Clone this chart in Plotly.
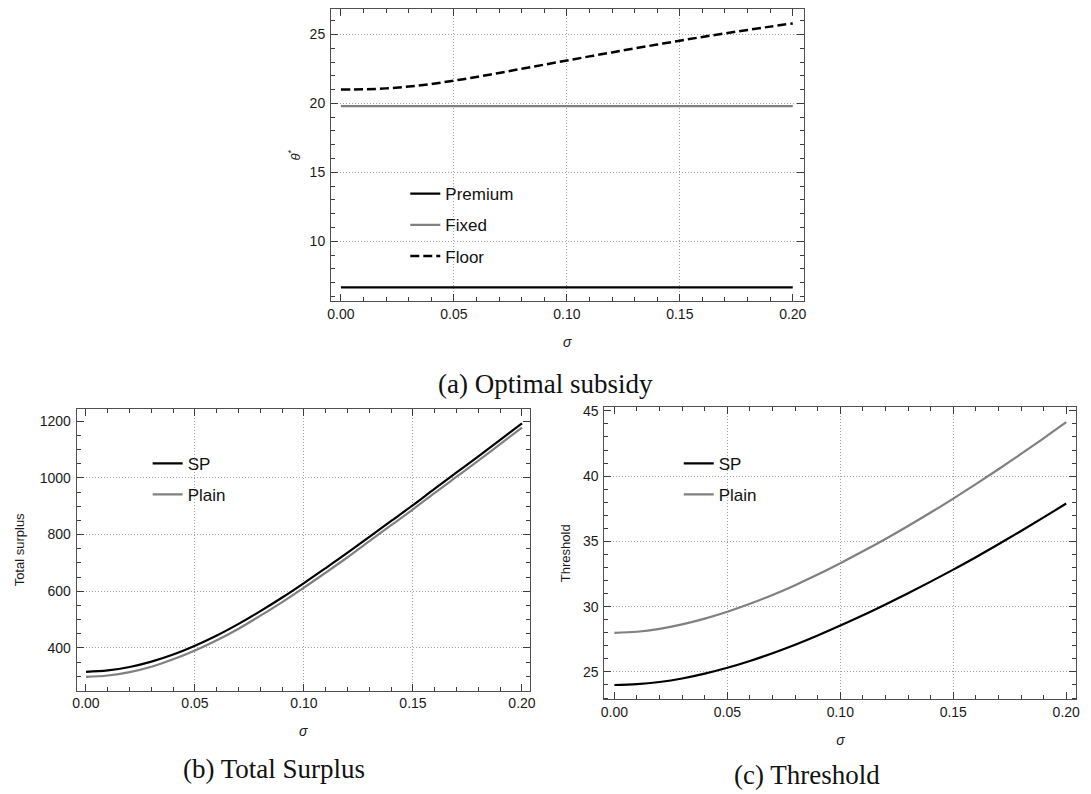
import plotly.graph_objects as go

# ---------------- data ----------------
sigma = [0.00, 0.01, 0.02, 0.03, 0.04, 0.05, 0.06, 0.07, 0.08, 0.09, 0.10,
         0.11, 0.12, 0.13, 0.14, 0.15, 0.16, 0.17, 0.18, 0.19, 0.20]

# (a) Optimal subsidy
floor_theta = [21.00, 21.02, 21.09, 21.22, 21.41, 21.65, 21.92, 22.21, 22.51, 22.81, 23.11,
               23.41, 23.70, 23.99, 24.27, 24.55, 24.82, 25.08, 25.33, 25.57, 25.80]
flat_sigma = [0.00, 0.20]
premium_theta = [6.66, 6.66]
fixed_theta = [19.80, 19.80]

# (b) Total surplus
surplus_sp = [316, 321, 333, 352, 377, 408, 444, 485, 530, 578, 629,
              682, 736, 792, 848, 904, 962, 1019, 1076, 1134, 1192]
surplus_plain = [298, 303, 315, 334, 360, 391, 427, 468, 514, 562, 613,
                 666, 720, 777, 833, 889, 947, 1004, 1061, 1119, 1177]

# (c) Threshold
threshold_sp = [24.00, 24.06, 24.23, 24.50, 24.87, 25.32, 25.84, 26.43, 27.08, 27.79, 28.55,
                29.34, 30.17, 31.03, 31.92, 32.84, 33.79, 34.78, 35.80, 36.84, 37.90]
threshold_plain = [28.00, 28.08, 28.30, 28.64, 29.08, 29.61, 30.22, 30.90, 31.65, 32.46, 33.33,
                   34.24, 35.19, 36.18, 37.21, 38.28, 39.39, 40.53, 41.70, 42.90, 44.13]

# ticks (major label positions, minor tick step, grid positions)
x_ticks = [0.00, 0.05, 0.10, 0.15, 0.20]
x_minor = 0.01
x_grid = [0.05, 0.10, 0.15]
theta_ticks = [10, 15, 20, 25]
theta_minor = 1
theta_grid = [10, 15, 20, 25]
surplus_ticks = [400, 600, 800, 1000, 1200]
surplus_minor = 50
surplus_grid = [400, 600, 800, 1000]
threshold_ticks = [25, 30, 35, 40, 45]
threshold_minor = 1
threshold_grid = [25, 30, 35, 40]

captions = ["(a) Optimal subsidy", "(b) Total Surplus", "(c) Threshold"]

# ---------------- styling ----------------
BLACK = "#000000"
GRAY = "#808080"
FRAME = "#505050"
TICK = "#3c3c3c"
SANS = "Liberation Sans, Arial, sans-serif"
SERIF = "Liberation Serif, Times New Roman, serif"
W, H = 1091, 794

fig = go.Figure()

# (a)
fig.add_trace(go.Scatter(x=flat_sigma, y=premium_theta, mode="lines", name="Premium",
                         line=dict(color=BLACK, width=2.2), xaxis="x", yaxis="y",
                         legend="legend", legendgroup="a1"))
fig.add_trace(go.Scatter(x=flat_sigma, y=fixed_theta, mode="lines", name="Fixed",
                         line=dict(color=GRAY, width=2.2), xaxis="x", yaxis="y",
                         legend="legend", legendgroup="a2"))
fig.add_trace(go.Scatter(x=sigma, y=floor_theta, mode="lines", name="Floor",
                         line=dict(color=BLACK, width=2.5, dash="9px,4px", shape="spline"),
                         xaxis="x", yaxis="y", legend="legend", legendgroup="a3"))
# (b)
fig.add_trace(go.Scatter(x=sigma, y=surplus_sp, mode="lines", name="SP",
                         line=dict(color=BLACK, width=2.2, shape="spline"), xaxis="x2", yaxis="y2",
                         legend="legend2", legendgroup="b1"))
fig.add_trace(go.Scatter(x=sigma, y=surplus_plain, mode="lines", name="Plain",
                         line=dict(color=GRAY, width=2.2, shape="spline"), xaxis="x2", yaxis="y2",
                         legend="legend2", legendgroup="b2"))
# (c)
fig.add_trace(go.Scatter(x=sigma, y=threshold_sp, mode="lines", name="SP",
                         line=dict(color=BLACK, width=2.2, shape="spline"), xaxis="x3", yaxis="y3",
                         legend="legend3", legendgroup="c1"))
fig.add_trace(go.Scatter(x=sigma, y=threshold_plain, mode="lines", name="Plain",
                         line=dict(color=GRAY, width=2.2, shape="spline"), xaxis="x3", yaxis="y3",
                         legend="legend3", legendgroup="c2"))

# empty traces so that the grid-only overlay axes are instantiated
for xa, ya in (("x4", "y4"), ("x5", "y5"), ("x6", "y6")):
    fig.add_trace(go.Scatter(x=[], y=[], mode="lines", xaxis=xa, yaxis=ya,
                             showlegend=False, hoverinfo="skip"))


def px_dom_x(a, b):
    return [a / W, b / W]


def px_dom_y(top, bottom):
    return [1 - bottom / H, 1 - top / H]


def frame_axis(domain, rng, anchor, ticks, minor, fmt, standoff_lbl, title, title_size, standoff):
    return dict(domain=domain, range=rng, anchor=anchor,
                tickmode="linear", tick0=ticks[0], dtick=ticks[1] - ticks[0], tickformat=fmt,
                ticks="inside", ticklen=7, tickwidth=1, tickcolor=TICK,
                minor=dict(tickmode="linear", tick0=ticks[0], dtick=minor, ticks="inside",
                           ticklen=4, tickwidth=1, tickcolor=TICK, showgrid=False),
                showline=True, linecolor=FRAME, linewidth=1, mirror="ticks",
                showgrid=False, zeroline=False, ticklabelstandoff=standoff_lbl,
                tickfont=dict(family=SANS, size=14, color="#1a1a1a"),
                title=dict(text=title, font=dict(family=SANS, size=title_size, color="#1a1a1a"),
                           standoff=standoff))


def grid_axis(domain, rng, over, anchor, vals):
    return dict(domain=domain, range=rng, overlaying=over, anchor=anchor,
                tickmode="array", tickvals=vals, showticklabels=False, ticks="",
                showgrid=True, gridcolor="#a0a0a0", gridwidth=1, griddash="1px,2px",
                showline=False, zeroline=False)


dA_x, dA_y = px_dom_x(330, 807), px_dom_y(5, 299)
dB_x, dB_y = px_dom_x(73.3, 530.7), px_dom_y(407.3, 690)
dC_x, dC_y = px_dom_x(606, 1082.3), px_dom_y(405, 699)

rA_x, rA_y = [-0.0044, 0.2048], [5.63, 26.85]
rB_x, rB_y = [-0.0043, 0.2036], [250, 1242]
rC_x, rC_y = [-0.0044, 0.2045], [22.89, 45.3]

legend_common = dict(font=dict(family=SANS, size=17, color="#111"), bgcolor="rgba(0,0,0,0)",
                     borderwidth=0, xanchor="left", yanchor="top", tracegroupgap=6,
                     traceorder="grouped")

SIG = "<i>σ</i>"
fig.update_layout(
    width=W, height=H, margin=dict(l=0, r=0, t=0, b=0),
    paper_bgcolor="white", plot_bgcolor="white", showlegend=True,
    xaxis=frame_axis(dA_x, rA_x, "y", x_ticks, x_minor, ".2f", 0, SIG, 14, 15),
    yaxis=frame_axis(dA_y, rA_y, "x", theta_ticks, theta_minor, "d", 2,
                     "<i>θ</i><sup>*</sup>", 13, 6),
    xaxis2=frame_axis(dB_x, rB_x, "y2", x_ticks, x_minor, ".2f", 0, SIG, 14, 15),
    yaxis2=frame_axis(dB_y, rB_y, "x2", surplus_ticks, surplus_minor, "d", 2,
                      "Total surplus", 13, 12),
    xaxis3=frame_axis(dC_x, rC_x, "y3", x_ticks, x_minor, ".2f", 0, SIG, 14, 15),
    yaxis3=frame_axis(dC_y, rC_y, "x3", threshold_ticks, threshold_minor, "d", 2,
                      "Threshold", 13, 9),
    xaxis4=grid_axis(dA_x, rA_x, "x", "y4", x_grid),
    yaxis4=grid_axis(dA_y, rA_y, "y", "x4", theta_grid),
    xaxis5=grid_axis(dB_x, rB_x, "x2", "y5", x_grid),
    yaxis5=grid_axis(dB_y, rB_y, "y2", "x5", surplus_grid),
    xaxis6=grid_axis(dC_x, rC_x, "x3", "y6", x_grid),
    yaxis6=grid_axis(dC_y, rC_y, "y3", "x6", threshold_grid),
    legend=dict(x=405 / W, y=1 - 173 / H, **legend_common),
    legend2=dict(x=145 / W, y=1 - 444 / H, **legend_common),
    legend3=dict(x=681 / W, y=1 - 444 / H, **legend_common),
)

cap_pos = [(547, 382), (272, 769), (810, 775)]
for text, (cx, cy) in zip(captions, cap_pos):
    fig.add_annotation(text=text, xref="paper", yref="paper", x=cx / W, y=1 - cy / H,
                       xanchor="center", yanchor="middle", showarrow=False, borderpad=0,
                       font=dict(family=SERIF, size=27, color="#111"))

fig.write_html("out.html", config={"displayModeBar": False},
               post_script="document.body.style.margin='0';document.body.style.overflow='hidden';")
